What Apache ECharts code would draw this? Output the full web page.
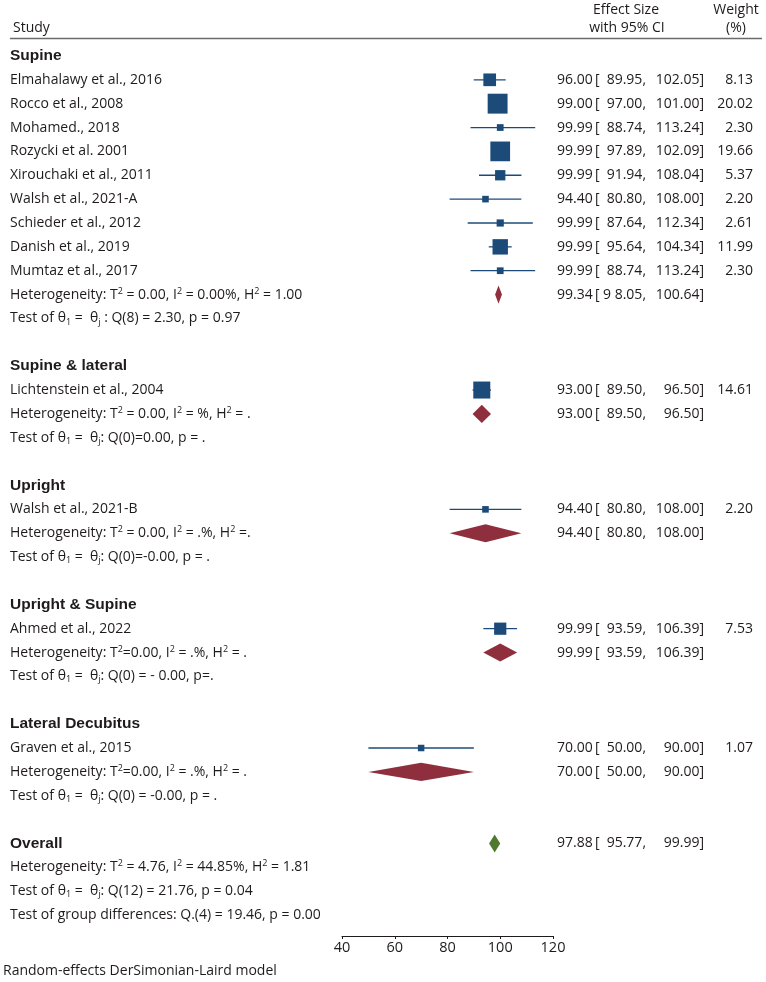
<!DOCTYPE html>
<html>
<head>
<meta charset="utf-8">
<title>Forest plot</title>
<script src="https://cdn.jsdelivr.net/npm/echarts@6/dist/echarts.min.js"></script>
<style>
  html, body { margin: 0; padding: 0; background: #fff; }
  #chart { width: 766px; height: 982px; }
</style>
</head>
<body>
<div id="chart"></div>
<script>
// rows of the table, top to bottom (^x = superscript, _x = subscript)
const rowLabels = [
  'Supine',
  'Elmahalawy et al., 2016',
  'Rocco et al., 2008',
  'Mohamed., 2018',
  'Rozycki et al. 2001',
  'Xirouchaki et al., 2011',
  'Walsh et al., 2021-A',
  'Schieder et al., 2012',
  'Danish et al., 2019',
  'Mumtaz et al., 2017',
  'Heterogeneity: T^2 = 0.00, I^2 = 0.00%, H^2 = 1.00',
  'Test of θ_1 =  θ_j : Q(8) = 2.30, p = 0.97',
  '',
  'Supine & lateral',
  'Lichtenstein et al., 2004',
  'Heterogeneity: T^2 = 0.00, I^2 = %, H^2 = .',
  'Test of θ_1 =  θ_j: Q(0)=0.00, p = .',
  '',
  'Upright',
  'Walsh et al., 2021-B',
  'Heterogeneity: T^2 = 0.00, I^2 = .%, H^2 =.',
  'Test of θ_1 =  θ_j: Q(0)=-0.00, p = .',
  '',
  'Upright & Supine',
  'Ahmed et al., 2022',
  'Heterogeneity: T^2=0.00, I^2 = .%, H^2 = .',
  'Test of θ_1 =  θ_j: Q(0) = - 0.00, p=.',
  '',
  'Lateral Decubitus',
  'Graven et al., 2015',
  'Heterogeneity: T^2=0.00, I^2 = .%, H^2 = .',
  'Test of θ_1 =  θ_j: Q(0) = -0.00, p = .',
  '',
  'Overall',
  'Heterogeneity: T^2 = 4.76, I^2 = 44.85%, H^2 = 1.81',
  'Test of θ_1 =  θ_j: Q(12) = 21.76, p = 0.04',
  'Test of group differences: Q.(4) = 19.46, p = 0.00'
];
const groupRows = [0, 13, 18, 23, 28, 33];

// individual studies
const studyRow = [1, 2, 3, 4, 5, 6, 7, 8, 9, 14, 19, 24, 29];
const studyEst = [96.00, 99.00, 99.99, 99.99, 99.99, 94.40, 99.99, 99.99, 99.99, 93.00, 94.40, 99.99, 70.00];
const studyLo = [89.95, 97.00, 88.74, 97.89, 91.94, 80.80, 87.64, 95.64, 88.74, 89.50, 80.80, 93.59, 50.00];
const studyHi = [102.05, 101.00, 113.24, 102.09, 108.04, 108.00, 112.34, 104.34, 113.24, 96.50, 108.00, 106.39, 90.00];
const studyWeight = [8.13, 20.02, 2.30, 19.66, 5.37, 2.20, 2.61, 11.99, 2.30, 14.61, 2.20, 7.53, 1.07];

// pooled estimates (subgroups, then overall)
const poolRow = [10, 15, 20, 25, 30, 33];
const poolEst = [99.34, 93.00, 94.40, 99.99, 70.00, 97.88];
const poolLo = [98.05, 89.50, 80.80, 93.59, 50.00, 95.77];
const poolHi = [100.64, 96.50, 108.00, 106.39, 90.00, 99.99];
const poolLoText = ['9 8.05', null, null, null, null, null];
const poolOverall = [0, 0, 0, 0, 0, 1];

const xTicks = [40, 60, 80, 100, 120];

const BLUE = '#1c4b7a';
const RED = '#8f2f3d';
const GREEN = '#4f7a2e';
const INK = '#1f1b1c';
const FONT = '"Open Sans", "Noto Sans", sans-serif';

const fmt = n => n.toFixed(2);

const rightLabels = rowLabels.map(() => '');
studyRow.forEach((r, i) => {
  rightLabels[r] = `{es|${fmt(studyEst[i])}}{br|[}{lo|${fmt(studyLo[i])},}{hi|${fmt(studyHi[i])}]}{w|${fmt(studyWeight[i])}}`;
});
poolRow.forEach((r, i) => {
  const lo = poolLoText[i] || fmt(poolLo[i]);
  rightLabels[r] = `{es|${fmt(poolEst[i])}}{br|[}{lo|${lo},}{hi|${fmt(poolHi[i])}]}`;
});

const rowIndex = rowLabels.map((_, i) => i);

const getOption = () => {
  return {
    animation: false,
    backgroundColor: '#fff',
    grid: { left: 342, width: 211, top: 44, height: 883 },
    xAxis: {
      type: 'value',
      min: xTicks[0],
      max: xTicks[xTicks.length - 1],
      interval: 20,
      offset: 9,
      splitLine: { show: false },
      axisLine: { show: true, lineStyle: { color: INK, width: 1 } },
      axisTick: { show: true, length: 3, lineStyle: { color: INK } },
      axisLabel: { fontFamily: FONT, fontSize: 14.5, color: INK, margin: 4 }
    },
    yAxis: [
      {
        type: 'category',
        data: rowIndex,
        inverse: true,
        position: 'left',
        axisLine: { show: false },
        axisTick: { show: false },
        splitLine: { show: false },
        axisLabel: {
          interval: 0,
          align: 'left',
          margin: 332,
          fontFamily: FONT,
          fontSize: 14,
          lineHeight: 16,
          color: INK,
          formatter: (v, i) => {
            const t = rowLabels[i];
            if (!t) return '';
            if (groupRows.includes(i)) return '{h|' + t + '}';
            return t.replace(/\^(\w)/g, '{sup|$1}').replace(/_(\w)/g, '{sub|$1}');
          },
          rich: {
            h: { fontFamily: '"Liberation Sans", Arial, sans-serif', fontWeight: 'bold', fontSize: 15.5, color: INK, lineHeight: 16 },
            sup: { fontFamily: FONT, fontSize: 9, lineHeight: 9, verticalAlign: 'top', color: INK },
            sub: { fontFamily: FONT, fontSize: 9, lineHeight: 6, verticalAlign: 'bottom', color: INK }
          }
        }
      },
      {
        type: 'category',
        data: rowIndex,
        inverse: true,
        position: 'right',
        axisLine: { show: false },
        axisTick: { show: false },
        splitLine: { show: false },
        axisLabel: {
          interval: 0,
          align: 'left',
          margin: 4,
          fontFamily: FONT,
          fontSize: 14,
          color: INK,
          formatter: (v, i) => rightLabels[i],
          rich: {
            es: { fontFamily: FONT, fontSize: 14, color: INK, width: 38, align: 'left' },
            br: { fontFamily: FONT, fontSize: 14, color: INK, width: 8, align: 'left' },
            lo: { fontFamily: FONT, fontSize: 14, color: INK, width: 43, align: 'right' },
            hi: { fontFamily: FONT, fontSize: 14, color: INK, width: 58, align: 'right' },
            w: { fontFamily: FONT, fontSize: 14, color: INK, width: 49, align: 'right' }
          }
        }
      }
    ],
    graphic: [
      { type: 'text', style: { text: 'Study', x: 13, y: 28, fontFamily: FONT, fontSize: 14, fill: INK, verticalAlign: 'middle' } },
      { type: 'text', style: { text: 'Effect Size', x: 626, y: 10, fontFamily: FONT, fontSize: 14, fill: INK, align: 'center', verticalAlign: 'middle' } },
      { type: 'text', style: { text: 'with 95% CI', x: 627, y: 28, fontFamily: FONT, fontSize: 14, fill: INK, align: 'center', verticalAlign: 'middle' } },
      { type: 'text', style: { text: 'Weight', x: 736, y: 10, fontFamily: FONT, fontSize: 14, fill: INK, align: 'center', verticalAlign: 'middle' } },
      { type: 'text', style: { text: '(%)', x: 736, y: 28, fontFamily: FONT, fontSize: 14, fill: INK, align: 'center', verticalAlign: 'middle' } },
      { type: 'line', shape: { x1: 10, y1: 38.5, x2: 762, y2: 38.5 }, style: { stroke: '#6b6b6b', lineWidth: 1.5 } },
      { type: 'text', style: { text: 'Random-effects DerSimonian-Laird model', x: 3, y: 971, fontFamily: FONT, fontSize: 14, fill: INK, verticalAlign: 'middle' } }
    ],
    series: [
      {
        name: 'Studies',
        type: 'custom',
        xAxisIndex: 0,
        yAxisIndex: 0,
        encode: { x: [0, 1, 2], y: 3 },
        data: studyRow.map((r, i) => [studyEst[i], studyLo[i], studyHi[i], r, studyWeight[i]]),
        renderItem: (params, api) => {
          const row = api.value(3);
          const c = api.coord([api.value(0), row]);
          const lo = api.coord([api.value(1), row]);
          const hi = api.coord([api.value(2), row]);
          const s = Math.max(6.5, 4.45 * Math.sqrt(api.value(4)));
          return {
            type: 'group',
            children: [
              { type: 'line', shape: { x1: lo[0], y1: lo[1], x2: hi[0], y2: hi[1] }, style: { stroke: BLUE, lineWidth: 1.3 } },
              { type: 'rect', shape: { x: c[0] - s / 2, y: c[1] - s / 2, width: s, height: s }, style: { fill: BLUE } }
            ]
          };
        }
      },
      {
        name: 'Pooled',
        type: 'custom',
        xAxisIndex: 0,
        yAxisIndex: 0,
        encode: { x: [0, 1, 2], y: 3 },
        data: poolRow.map((r, i) => [poolEst[i], poolLo[i], poolHi[i], r, poolOverall[i]]),
        renderItem: (params, api) => {
          const row = api.value(3);
          const half = api.size([0, 1])[1] * 0.38;
          const c = api.coord([api.value(0), row]);
          const lo = api.coord([api.value(1), row]);
          const hi = api.coord([api.value(2), row]);
          return {
            type: 'polygon',
            shape: { points: [[lo[0], c[1]], [c[0], c[1] - half], [hi[0], c[1]], [c[0], c[1] + half]] },
            style: { fill: api.value(4) ? GREEN : RED }
          };
        }
      }
    ]
  };
};

const initChart = () => {
  const chart = echarts.init(document.getElementById('chart'));
  chart.setOption(getOption());
};

window.addEventListener('load', () => {
  initChart();
});
</script>
</body>
</html>
